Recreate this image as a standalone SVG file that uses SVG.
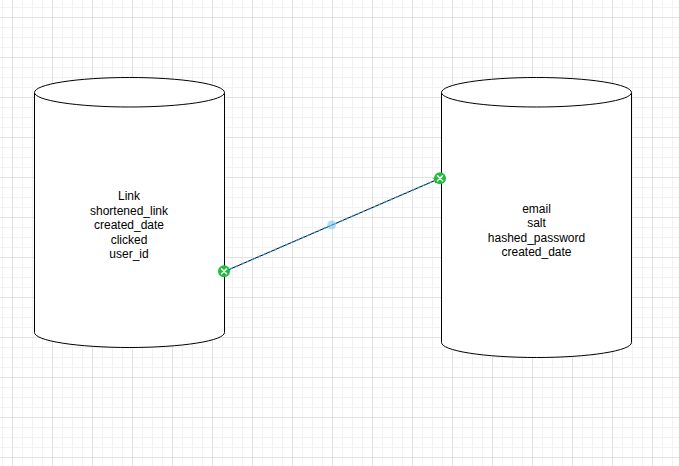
<svg xmlns="http://www.w3.org/2000/svg" width="679" height="466" viewBox="0 0 679 466">
  <style>
    .cyl { fill: #ffffff; stroke: #000000; stroke-width: 1; }
    .lbl { font-family: "Liberation Sans", Arial, Helvetica, sans-serif; font-size: 12px; fill: #000000; text-anchor: middle; }
    .edge { fill: none; stroke: #000000; stroke-width: 1; }
    .sel { fill: none; stroke: #1e9ee8; stroke-width: 1.3; stroke-dasharray: 3 3; }
    .handle { fill: #1fbf3a; stroke: none; }
    .hx { stroke: #ffffff; stroke-width: 1.6; stroke-linecap: round; }
  </style>
  <defs>
    <pattern id="minor" patternUnits="userSpaceOnUse" x="2" y="7" width="10" height="10">
      <path d="M0.5 0 V10 M0 0.5 H10" stroke="#f2f2f2" stroke-width="1" fill="none"/>
    </pattern>
    <pattern id="major" patternUnits="userSpaceOnUse" x="12" y="17" width="40" height="40">
      <path d="M0.5 0 V40 M0 0.5 H40" stroke="#e2e2e2" stroke-width="1" fill="none"/>
    </pattern>
    <marker id="arrow" markerWidth="8" markerHeight="8" refX="7" refY="4" orient="auto" markerUnits="userSpaceOnUse">
      <path d="M0,1 L7,4 L0,7 L2,4 Z" fill="#555555"/>
    </marker>
  </defs>
  <rect x="0" y="0" width="679" height="466" fill="#ffffff"/>
  <rect x="0" y="0" width="679" height="466" fill="url(#minor)"/>
  <rect x="0" y="0" width="679" height="466" fill="url(#major)"/>

  <g id="node-link">
    <path class="cyl" d="M34.5,92.5 A95,15 0 0 1 224.5,92.5 L224.5,332.5 A95,15 0 0 1 34.5,332.5 Z"/>
    <path class="cyl" fill="none" d="M34.5,92.5 A95,14.5 0 0 0 224.5,92.5"/>
    <text class="lbl" x="129" y="200">Link</text>
    <text class="lbl" x="129" y="214.5">shortened_link</text>
    <text class="lbl" x="129" y="229">created_date</text>
    <text class="lbl" x="129" y="243.5">clicked</text>
    <text class="lbl" x="129" y="258">user_id</text>
  </g>

  <g id="node-user">
    <path class="cyl" d="M441.5,92.5 A95,15 0 0 1 631.5,92.5 L631.5,342.5 A95,15 0 0 1 441.5,342.5 Z"/>
    <path class="cyl" fill="none" d="M441.5,92.5 A95,14.5 0 0 0 631.5,92.5"/>
    <text class="lbl" x="536.5" y="212.5">email</text>
    <text class="lbl" x="536.5" y="227">salt</text>
    <text class="lbl" x="536.5" y="241.5">hashed_password</text>
    <text class="lbl" x="536.5" y="256">created_date</text>
  </g>

  <g id="connectors">
    <line class="edge" x1="224.5" y1="271.5" x2="440" y2="178.3" marker-end="url(#arrow)"/>
    <line class="sel" x1="224.5" y1="271.5" x2="440" y2="178.3"/>
    <circle cx="331.7" cy="225" r="4.5" fill="#7cc8f2" fill-opacity="0.6"/>
    <circle class="handle" cx="224" cy="271.3" r="6"/>
    <path class="hx" d="M221.5,268.8 L226.5,273.8 M226.5,268.8 L221.5,273.8"/>
    <circle class="handle" cx="440" cy="178.3" r="6"/>
    <path class="hx" d="M437.5,175.8 L442.5,180.8 M442.5,175.8 L437.5,180.8"/>
  </g>
</svg>
